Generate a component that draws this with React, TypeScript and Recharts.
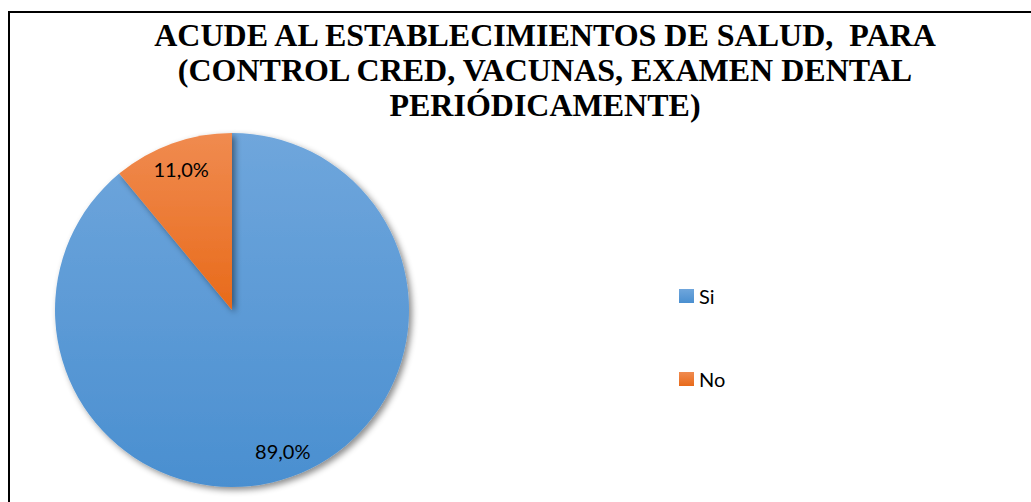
import React from 'react';
import { PieChart, Pie, Cell } from 'recharts';

const categories = ['Si', 'No'];
const shares = [89.0, 11.0];
const titleLines = [
  'ACUDE AL ESTABLECIMIENTOS DE SALUD,\u00a0 PARA',
  '(CONTROL CRED, VACUNAS, EXAMEN DENTAL',
  'PERIÓDICAMENTE)',
];

const data = categories.map((name, i) => ({ name, value: shares[i] }));

const fills = ['url(#gradSi)', 'url(#gradNo)'];
const tops = ['#6fa6dc', '#f08b50'];
const bottoms = ['#4a8fd0', '#e86a1a'];

const RAD = Math.PI / 180;

const renderLabel = (props: any) => {
  const { cx, cy, midAngle, value } = props;
  const r = 150;
  const x = cx + r * Math.cos(-midAngle * RAD);
  const y = cy + r * Math.sin(-midAngle * RAD);
  return (
    <text x={x} y={y} fill="#000" textAnchor="middle" dominantBaseline="central"
      fontFamily="Lato, sans-serif" fontSize={20}>
      {value.toFixed(1).replace('.', ',')}%
    </text>
  );
};

const LegendBox: React.FC = () => (
  <div style={{ position: 'absolute', left: 679, top: 284, fontFamily: 'Lato, sans-serif', fontSize: 20, color: '#000' }}>
    {categories.map((name, i) => (
      <div key={name} style={{ display: 'flex', alignItems: 'center', height: 24, marginBottom: i === 0 ? 59 : 0 }}>
        <div style={{ width: 15, height: 14, marginRight: 5, background: `linear-gradient(${tops[i]}, ${bottoms[i]})` }} />
        <span>{name}</span>
      </div>
    ))}
  </div>
);

const App: React.FC = () => {
  return (
    <div style={{ position: 'absolute', left: 0, top: 0, width: 1031, height: 502, background: '#fff', overflow: 'hidden' }}>
      <div style={{ position: 'absolute', left: 8, top: 11, width: 1100, height: 600, border: '2px solid #000', boxSizing: 'border-box' }} />
      <div style={{ position: 'absolute', left: 0, top: 18, width: 1090, textAlign: 'center', fontFamily: '"Liberation Serif", "Times New Roman", serif', fontWeight: 700, fontSize: 32, lineHeight: '35px', color: '#000' }}>
        {titleLines.map((t) => (
          <div key={t}>{t}</div>
        ))}
      </div>
      <div style={{ position: 'absolute', left: 0, top: 0 }}>
        <PieChart width={1031} height={502} margin={{ top: 0, right: 0, bottom: 0, left: 0 }}>
          <defs>
            <linearGradient id="gradSi" x1="0" y1="0" x2="0" y2="1">
              <stop offset="0%" stopColor={tops[0]} />
              <stop offset="100%" stopColor={bottoms[0]} />
            </linearGradient>
            <linearGradient id="gradNo" x1="0" y1="0" x2="0" y2="1">
              <stop offset="0%" stopColor={tops[1]} />
              <stop offset="100%" stopColor={bottoms[1]} />
            </linearGradient>
            <filter id="pieShadow" x="-10%" y="-10%" width="125%" height="125%">
              <feDropShadow dx="3" dy="3" stdDeviation="3" floodColor="#000" floodOpacity="0.45" />
            </filter>
          </defs>
          <Pie
            data={data}
            dataKey="value"
            nameKey="name"
            cx={232}
            cy={310}
            outerRadius={177}
            startAngle={90}
            endAngle={-270}
            stroke="none"
            label={renderLabel}
            labelLine={false}
            isAnimationActive={false}
            style={{ filter: 'url(#pieShadow)' }}
          >
            {data.map((d, i) => (
              <Cell key={d.name} fill={fills[i]} stroke="none" />
            ))}
          </Pie>
        </PieChart>
      </div>
      <LegendBox />
    </div>
  );
};

export default App;
